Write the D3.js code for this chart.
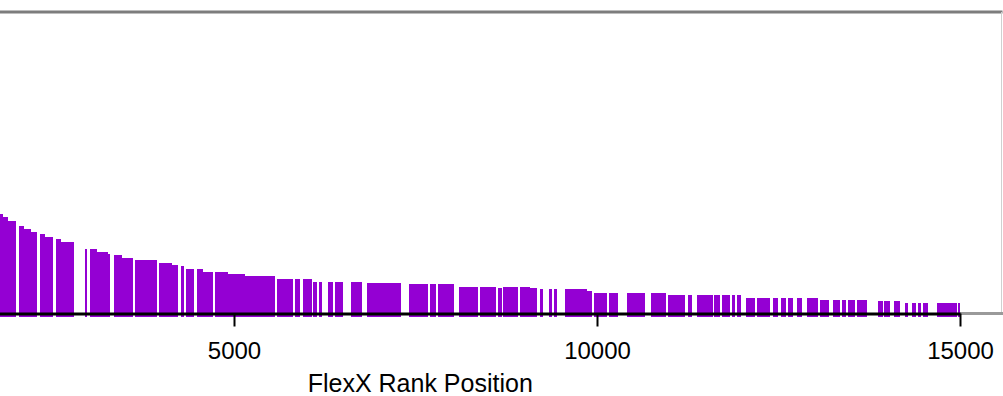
<!DOCTYPE html>
<html>
<head>
<meta charset="utf-8">
<script src="https://cdn.jsdelivr.net/npm/d3@7"></script>
<style>
  html, body { margin: 0; padding: 0; background: #fff; overflow: hidden; }
  svg { display: block; }
  text { font-family: "Liberation Sans", Arial, Helvetica, sans-serif; fill: #000; }
</style>
</head>
<body>
<svg id="chart" width="1003" height="396"></svg>
<script>
// Rank bins (FlexX rank position) and the hit rate within each bin
const rankStart = [
  1700, 1818, 1887,
  2039, 2108, 2204,
  2328, 2397,
  2548, 2617,
  2948,
  3017, 3113, 3265,
  3347, 3457,
  3636,
  3967, 4146,
  4270,
  4339,
  4490, 4573,
  4738, 4917, 5152,
  5592, 5840, 5950, 6088, 6171, 6295, 6391, 6612, 6832,
  7411, 7700, 7810,
  8099, 8389, 8636, 8705, 8940, 9077,
  9215, 9339, 9408, 9559, 9862,
  9959, 10165, 10413, 10743,
  10978, 11254, 11378, 11612, 11722, 11860, 11929,
  12053, 12204, 12424, 12534, 12631, 12755, 12893,
  13072, 13251, 13375, 13457, 13581,
  13870, 13953, 14091,
  14243, 14339, 14422, 14490, 14683, 14972
];
const rankEnd = [
  1818, 1887, 1997,
  2108, 2204, 2287,
  2397, 2507,
  2617, 2796,
  2975,
  3113, 3265, 3292,
  3457, 3609,
  3939,
  4146, 4229,
  4311,
  4449,
  4573, 4711,
  4917, 5152, 5565,
  5813, 5909, 6074, 6143, 6212, 6364, 6501, 6763, 7300,
  7672, 7782, 8030,
  8361, 8609, 8692, 8912, 9077, 9174,
  9256, 9380, 9449, 9862, 9931,
  10138, 10289, 10661, 10950,
  11212, 11309, 11598, 11694, 11832, 11901, 11984,
  12177, 12383, 12493, 12603, 12700, 12824, 13044,
  13196, 13347, 13430, 13554, 13719,
  13939, 14036, 14174,
  14284, 14394, 14463, 14559, 14958, 15000
];
const hitRate = [
  0.339, 0.329, 0.316,
  0.299, 0.289, 0.280,
  0.273, 0.263,
  0.257, 0.247,
  0.224,
  0.224, 0.214, 0.207,
  0.204, 0.194,
  0.188,
  0.178, 0.171,
  0.168,
  0.158,
  0.158, 0.148,
  0.148, 0.141, 0.135,
  0.125, 0.125, 0.125, 0.115, 0.115, 0.115, 0.115, 0.115, 0.112,
  0.109, 0.109, 0.109,
  0.099, 0.099, 0.097, 0.099, 0.099, 0.095,
  0.092, 0.092, 0.092, 0.092, 0.086,
  0.079, 0.079, 0.079, 0.079,
  0.072, 0.072, 0.072, 0.072, 0.072, 0.072, 0.072,
  0.063, 0.063, 0.063, 0.063, 0.063, 0.063, 0.063,
  0.056, 0.056, 0.056, 0.056, 0.056,
  0.053, 0.053, 0.053,
  0.046, 0.046, 0.046, 0.046, 0.046, 0.046
];

// Axis ticks
const tickValues = [5000, 10000, 15000];
const tickLabels = ["5000", "10000", "15000"];
const xTitle = "FlexX Rank Position";

const bins = rankStart.map((s, i) => ({ start: s, end: rankEnd[i], value: hitRate[i] }));

const svg = d3.select("#chart");

// Plot frame (extends past the left edge of the view)
const frame = { left: -161, right: 1001.5, top: 12, bottom: 313.5 };

const x = d3.scaleLinear().domain([0, 15000]).range([-129, 960]);
const y = d3.scaleLinear().domain([0, 1]).range([317, 13]);

// Frame border
svg.append("line")
  .attr("x1", frame.left).attr("x2", frame.right + 1)
  .attr("y1", frame.top).attr("y2", frame.top)
  .attr("stroke", "#7d7d7d").attr("stroke-width", 3);
svg.append("line")
  .attr("x1", frame.right).attr("x2", frame.right)
  .attr("y1", frame.top).attr("y2", frame.bottom)
  .attr("stroke", "#d0d0d0").attr("stroke-width", 1);

// Bars
svg.append("g")
  .attr("shape-rendering", "crispEdges")
  .selectAll("rect")
  .data(bins)
  .join("rect")
  .attr("x", d => x(d.start))
  .attr("width", d => x(d.end) - x(d.start))
  .attr("y", d => y(d.value))
  .attr("height", d => y(0) - y(d.value))
  .attr("fill", "#9400d3");

// Bottom frame edge beyond the axis
svg.append("line")
  .attr("x1", x(15000)).attr("x2", frame.right + 2)
  .attr("y1", frame.bottom).attr("y2", frame.bottom)
  .attr("stroke", "#9a9a9a").attr("stroke-width", 3);

// X axis
const xAxis = d3.axisBottom(x)
  .tickValues(tickValues)
  .tickFormat((d, i) => tickLabels[i])
  .tickSizeOuter(0)
  .tickSizeInner(13)
  .tickPadding(15);

const gx = svg.append("g")
  .attr("transform", `translate(0,${frame.bottom})`)
  .call(xAxis);
gx.select(".domain").attr("stroke", "#000").attr("stroke-width", 3);
gx.selectAll(".tick line").attr("stroke", "#000").attr("stroke-width", 2);
gx.selectAll(".tick text")
  .attr("font-size", 24)
  .attr("font-family", "'Liberation Sans', Arial, sans-serif")
  .attr("fill", "#000");

// Axis title
svg.append("text")
  .attr("x", (frame.left + frame.right) / 2)
  .attr("y", 392)
  .attr("text-anchor", "middle")
  .attr("font-size", 25)
  .text(xTitle);
</script>
</body>
</html>
